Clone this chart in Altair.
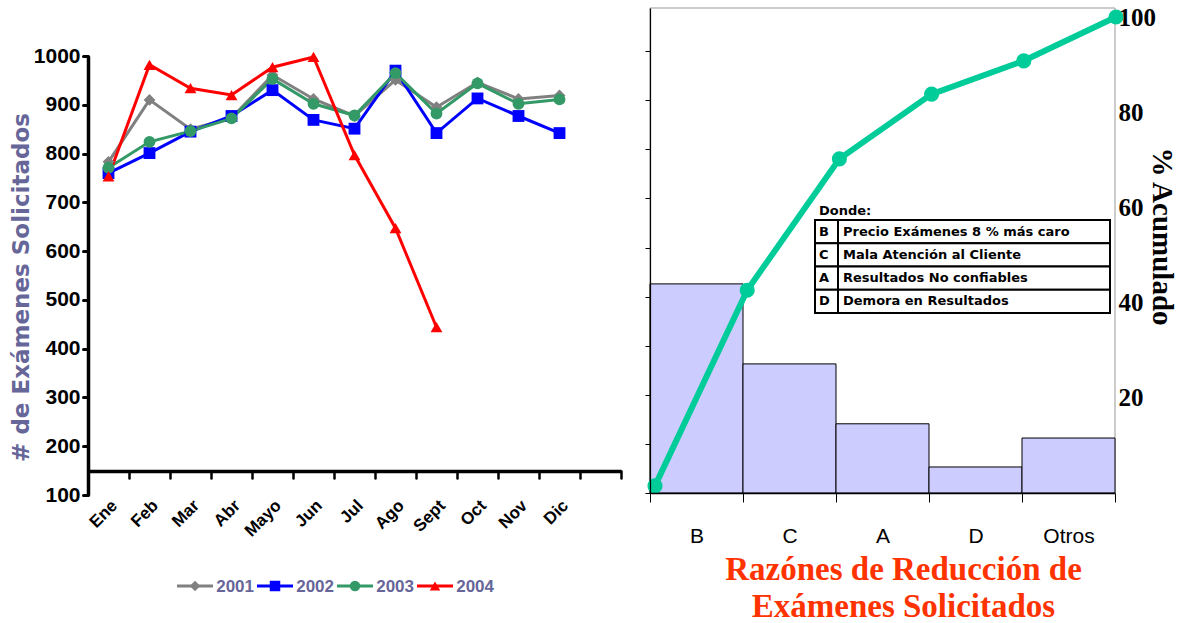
import altair as alt
import pandas as pd

# ---------------- data ----------------
months = ["Ene", "Feb", "Mar", "Abr", "Mayo", "Jun", "Jul", "Ago", "Sept", "Oct", "Nov", "Dic"]
years = ["2001", "2002", "2003", "2004"]
v2001 = [783, 910, 850, 873, 961, 912, 877, 951, 895, 946, 912, 919]
v2002 = [760, 801, 845, 877, 930, 869, 851, 970, 842, 913, 877, 842]
v2003 = [771, 824, 846, 872, 953, 902, 878, 965, 882, 944, 902, 911]
v2004 = [753, 982, 934, 920, 977, 998, 797, 647, 444]
y_ticks = [100, 200, 300, 400, 500, 600, 700, 800, 900, 1000]

reasons = ["B", "C", "A", "D", "Otros"]
pct = [42.6, 26.3, 14.1, 5.3, 11.2]
cum_steps = [0, 1, 2, 3, 4, 5]
cum_pct = [1.5, 42.6, 70.2, 83.8, 90.8, 100]
right_ticks = [20, 40, 60, 80, 100]
left_ticks = [0, 10, 20, 30, 40, 50, 60, 70, 80, 90]

codes = ["B", "C", "A", "D"]
descs = ["Precio Exámenes 8 % más caro", "Mala Atención al Cliente",
         "Resultados No confiables", "Demora en Resultados"]
note_title = ["Donde:"]

# ---------------- styles ----------------
series_colors = ["#808080", "#0000FF", "#339966", "#FF0000"]
series_shapes = ["diamond", "square", "circle", "triangle-up"]
SANS = "Liberation Sans, Arial, sans-serif"
SERIF = "Liberation Serif, Times New Roman, serif"

rows = []
for yr, vals in zip(years, [v2001, v2002, v2003, v2004]):
    for m, v in zip(months, vals):
        rows.append({"year": yr, "month": m, "val": v})
df = pd.DataFrame(rows)

color_scale = alt.Scale(domain=years, range=series_colors)
shape_scale = alt.Scale(domain=years, range=series_shapes)

# ---------------- left chart ----------------
x_left = alt.X(
    "month:N",
    scale=alt.Scale(type="band", domain=months + ["_"], range=[88, 621], paddingInner=0, paddingOuter=0),
    axis=alt.Axis(orient="bottom", offset=-152, tickBand="extent", title=None, grid=False,
                  labelAngle=315, labelFont=SANS, labelFontWeight="bold", labelFontSize=17,
                  labelColor="black", labelPadding=19, tickSize=7, tickWidth=2.5, tickColor="black",
                  tickCap="round", domainColor="black", domainWidth=3.5, zindex=1,
                  labelExpr="datum.value == '_' ? '' : datum.value"),
)
y_left = alt.Y(
    "val:Q",
    scale=alt.Scale(domain=[100, 1000], range=[495, 56], nice=False, zero=False),
    axis=alt.Axis(orient="left", offset=-88, values=y_ticks, grid=False, format="d",
                  labelFont=SANS, labelFontWeight="bold", labelFontSize=21, labelColor="black",
                  labelPadding=3, tickSize=5, tickWidth=3, tickColor="black", tickCap="round",
                  domainColor="black", domainWidth=3.5, zindex=1,
                  title="# de Exámenes Solicitados", titleFont="DejaVu Sans", titleFontWeight="bold",
                  titleFontSize=23, titleColor="#666699", titleAngle=270, titleX=-67, titleY=287,
                  titleAlign="center", titleBaseline="middle"),
)
color_left = alt.Color("year:N", scale=color_scale, legend=None)
shape_left = alt.Shape("year:N", scale=shape_scale, legend=None)

lines = alt.Chart(df).mark_line(strokeWidth=3).encode(x=x_left, y=y_left, color=color_left, detail="year:N")
points = alt.Chart(df).mark_point(filled=True, opacity=1, size=140).encode(
    x=x_left, y=y_left, color=color_left, shape=shape_left)
left_layer = alt.layer(lines, points)

# legend drawn from the series names
leg_df = pd.DataFrame({"year": years, "i": list(range(len(years)))})
leg_base = alt.Chart(leg_df).transform_calculate(
    x0="datum.i", x1="datum.i + 0.45", xm="datum.i + 0.225", xt="datum.i + 0.49")
leg_x = alt.Scale(domain=[0, 4], range=[177, 497], nice=False, zero=False)
leg_rule = leg_base.mark_rule(strokeWidth=3).encode(
    x=alt.X("x0:Q", scale=leg_x, axis=None), x2="x1:Q", y=alt.value(586), color=color_left)
leg_pt = leg_base.mark_point(filled=True, opacity=1, size=110).encode(
    x=alt.X("xm:Q", scale=leg_x, axis=None), y=alt.value(586), color=color_left, shape=shape_left)
leg_txt = leg_base.mark_text(align="left", baseline="middle", font=SANS, fontWeight="bold",
                             fontSize=17, color="#666699").encode(
    x=alt.X("xt:Q", scale=leg_x, axis=None), y=alt.value(587), text="year:N")
legend_layer = alt.layer(leg_rule, leg_pt, leg_txt)

# ---------------- right chart ----------------
df_bars = pd.DataFrame({"reason": reasons, "pct": pct})
df_cum = pd.DataFrame({"step": cum_steps, "cum": cum_pct})

bar_y_scale = alt.Scale(domain=[0, 98.8], range=[493, 8], nice=False, zero=True)

frame = alt.Chart(pd.DataFrame({"lo": [0], "hi": [98.8]})).mark_rect(
    fill="white", stroke="#999999", strokeWidth=1
).encode(
    x=alt.value(650), x2=alt.value(1115),
    y=alt.Y("lo:Q", scale=bar_y_scale,
            axis=alt.Axis(orient="left", offset=-655, values=left_ticks, labels=False, domain=False,
                          grid=False, tickSize=5, tickColor="black", tickWidth=1, title=None)),
    y2="hi:Q",
)

bars = alt.Chart(df_bars).mark_bar(fill="#CCCCFF", stroke="black", strokeWidth=1).encode(
    x=alt.X("reason:N", sort=reasons,
            scale=alt.Scale(type="band", domain=reasons, range=[650, 1115], paddingInner=0, paddingOuter=0),
            axis=alt.Axis(orient="bottom", offset=-130, tickBand="extent", grid=False, labelAngle=0,
                          labelFont=SANS, labelFontSize=21, labelColor="black", labelPadding=23,
                          tickSize=9, tickColor="black", tickWidth=1, domainColor="black",
                          domainWidth=1.5, zindex=1,
                          title=["Razónes de Reducción de", "Exámenes Solicitados"],
                          titleFont=SERIF, titleFontWeight="bold", titleFontSize=33,
                          titleColor="#FF3300", titleLineHeight=37, titleX=903, titleY=86,
                          titleAlign="center", titleBaseline="alphabetic", titleAngle=0)),
    y=alt.Y("pct:Q", scale=bar_y_scale,
            axis=alt.Axis(orient="left", offset=-650, values=left_ticks, labels=False, grid=False,
                          tickSize=5, tickColor="black", tickWidth=1, domainColor="black",
                          domainWidth=1.2, title=None, zindex=1)),
)

x_line = alt.X("step:Q", scale=alt.Scale(domain=[0, 5], range=[655, 1116], nice=False), axis=None)
y_line = alt.Y("cum:Q", scale=alt.Scale(domain=[0, 100], range=[493, 17], nice=False),
               axis=alt.Axis(orient="right", offset=-67, values=right_ticks, domain=False, ticks=False,
                             grid=False, labelFont=SERIF, labelFontWeight="bold", labelFontSize=25,
                             labelColor="black", labelPadding=3, labelBaseline="middle",
                             title="% Acumulado", titleFont=SERIF, titleFontWeight="bold",
                             titleFontSize=29, titleColor="black", titleAngle=90, titleX=46,
                             titleY=236, titleAlign="center", titleBaseline="middle"))
cum_line = alt.Chart(df_cum).mark_line(color="#00CC99", strokeWidth=6).encode(x=x_line, y=y_line)
cum_pts = alt.Chart(df_cum).mark_circle(color="#00CC99", size=230, opacity=1).encode(x=x_line, y=y_line)
line_layer = alt.layer(cum_line, cum_pts)

# ---------------- note table ----------------
df_tab = pd.DataFrame({"code": codes, "desc": descs, "idx": list(range(len(codes)))})
tab_y_scale = alt.Scale(domain=[0, 4], range=[220, 313], nice=False, zero=False)
tab_base = alt.Chart(df_tab).transform_calculate(idx2="datum.idx + 1", mid="datum.idx + 0.5")
code_cells = tab_base.mark_rect(fill="white", stroke="black", strokeWidth=2).encode(
    x=alt.value(815), x2=alt.value(838),
    y=alt.Y("idx:Q", scale=tab_y_scale, axis=None), y2="idx2:Q")
desc_cells = tab_base.mark_rect(fill="white", stroke="black", strokeWidth=2).encode(
    x=alt.value(838), x2=alt.value(1110),
    y=alt.Y("idx:Q", scale=tab_y_scale, axis=None), y2="idx2:Q")
code_text = tab_base.mark_text(align="left", baseline="middle", font="DejaVu Sans",
                               fontWeight="bold", fontSize=13, color="black").encode(
    x=alt.value(819), y=alt.Y("mid:Q", scale=tab_y_scale, axis=None), text="code:N")
desc_text = tab_base.mark_text(align="left", baseline="middle", font="DejaVu Sans",
                               fontWeight="bold", fontSize=13, color="black").encode(
    x=alt.value(843), y=alt.Y("mid:Q", scale=tab_y_scale, axis=None), text="desc:N")
table_layer = alt.layer(code_cells, desc_cells, code_text, desc_text)

donde = alt.Chart(pd.DataFrame({"t": note_title})).mark_text(
    align="left", baseline="middle", font="DejaVu Sans", fontWeight="bold", fontSize=13, color="black"
).encode(x=alt.value(819), y=alt.value(211), text="t:N")

chart = alt.layer(
    frame, bars, line_layer, table_layer, donde, left_layer, legend_layer
).resolve_scale(
    x="independent", y="independent"
).properties(
    width=1182, height=623, autosize=alt.AutoSizeParams(type="none"), padding=0
).configure_view(stroke=None)

chart.save("out.html", embed_options={"renderer": "svg", "actions": False})
